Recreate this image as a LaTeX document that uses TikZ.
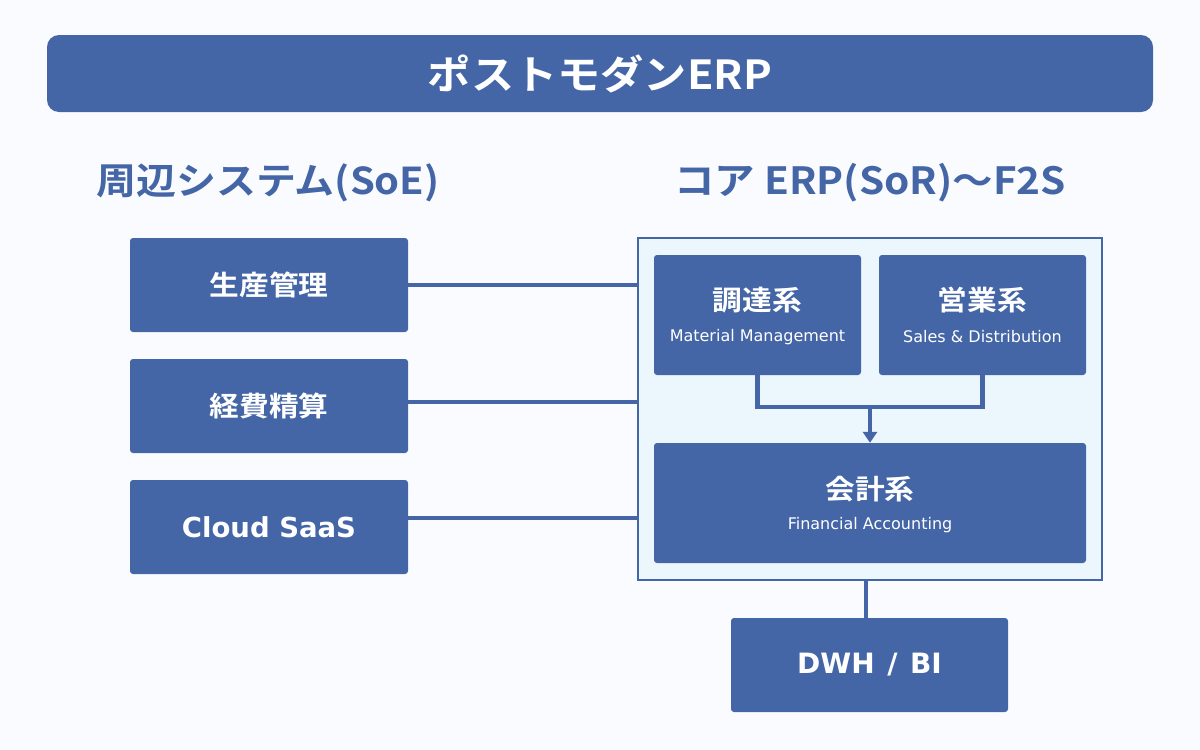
\documentclass[tikz,border=0pt]{standalone}
\usepackage{fontspec}
\setmainfont{DejaVu Sans}
\newfontfamily\jpb[FakeStretch=1.08]{Noto Sans CJK JP Bold}
\newfontfamily\lat{DejaVu Sans}
\usetikzlibrary{arrows.meta}
\definecolor{mainblue}{HTML}{4466A6}
\definecolor{corefill}{HTML}{EBF6FD}
\definecolor{bgc}{HTML}{FAFBFE}
\begin{document}
\begin{tikzpicture}[x=1pt,y=-1pt,
  box/.style={fill=mainblue,draw=none,rounded corners=3pt,text=white,align=center},
  conn/.style={draw=mainblue,line width=4pt},
  lbl/.style={font=\jpb\fontsize{27.5}{30}\selectfont},
  sub/.style={font=\lat\fontsize{16}{18}\selectfont}]
\fill[bgc] (0,0) rectangle (1200,750);
\useasboundingbox (0,0) rectangle (1200,750);
% title
\node[box,rounded corners=12pt,minimum width=1106pt,minimum height=77pt,inner sep=0pt] (title) at (600,73.5) {};
\node[text=white,font=\jpb\fontsize{40}{44}\selectfont] (titletext) at (600,74) {ポストモダンERP};
% headings
\node[text=mainblue,font=\jpb\fontsize{37}{42}\selectfont] (hleft) at (268,183) {周辺システム(SoE)};
\node[text=mainblue,font=\jpb\fontsize{37.5}{42}\selectfont] (hright) at (870,183) {コア ERP(SoR)～F2S};
% core container
\node[draw=mainblue,line width=2pt,fill=corefill,minimum width=464pt,minimum height=342pt,inner sep=0pt] (core) at (870,409) {};
% left boxes
\node[box,minimum width=278pt,minimum height=94pt,inner sep=0pt,lbl] (prod) at (269,285) {生産管理};
\node[box,minimum width=278pt,minimum height=94pt,inner sep=0pt,lbl] (exp) at (269,406) {経費精算};
\node[box,minimum width=278pt,minimum height=94pt,inner sep=0pt,font=\lat\bfseries\fontsize{27.5}{30}\selectfont] (saas) at (269,527) {Cloud SaaS};
% left connectors
\draw[conn] (prod.east) -- (prod.east -| core.west);
\draw[conn] (408,402) coordinate (e1) -- (core.west |- e1);
\draw[conn] (408,518) coordinate (e2) -- (core.west |- e2);
% inner boxes
\node[box,minimum width=207pt,minimum height=120pt,inner sep=0pt] (mm) at (757.5,315) {};
\node[text=white,lbl] (mmj) at (757.5,300) {調達系};
\node[text=white,sub] (mme) at (757.5,337) {Material Management};
\node[box,minimum width=207pt,minimum height=120pt,inner sep=0pt] (sd) at (982.5,315) {};
\node[text=white,lbl] (sdj) at (982.5,300) {営業系};
\node[text=white,sub] (sde) at (982.5,337) {Sales \& Distribution};
\node[box,minimum width=432pt,minimum height=120pt,inner sep=0pt] (fa) at (870,503) {};
\node[text=white,lbl] (faj) at (870,489) {会計系};
\node[text=white,sub] (fae) at (870,525) {Financial Accounting};
% internal connectors
\coordinate (join) at (870,407);
\draw[draw=mainblue,line width=4.5pt] (mm.south) |- (join) -| (sd.south);
\draw[draw=mainblue,line width=4.5pt,-{Triangle[length=11pt,width=14pt]}] (join) -- (fa.north);
% DWH
\node[box,minimum width=277pt,minimum height=94pt,inner sep=0pt,font=\lat\bfseries\fontsize{28}{30}\selectfont] (dwh) at (869.5,665) {DWH\hspace{0.45em}/\hspace{0.45em}BI};
\draw[conn] (core.south -| 866,0) -- (dwh.north -| 866,0);
\end{tikzpicture}
\end{document}
